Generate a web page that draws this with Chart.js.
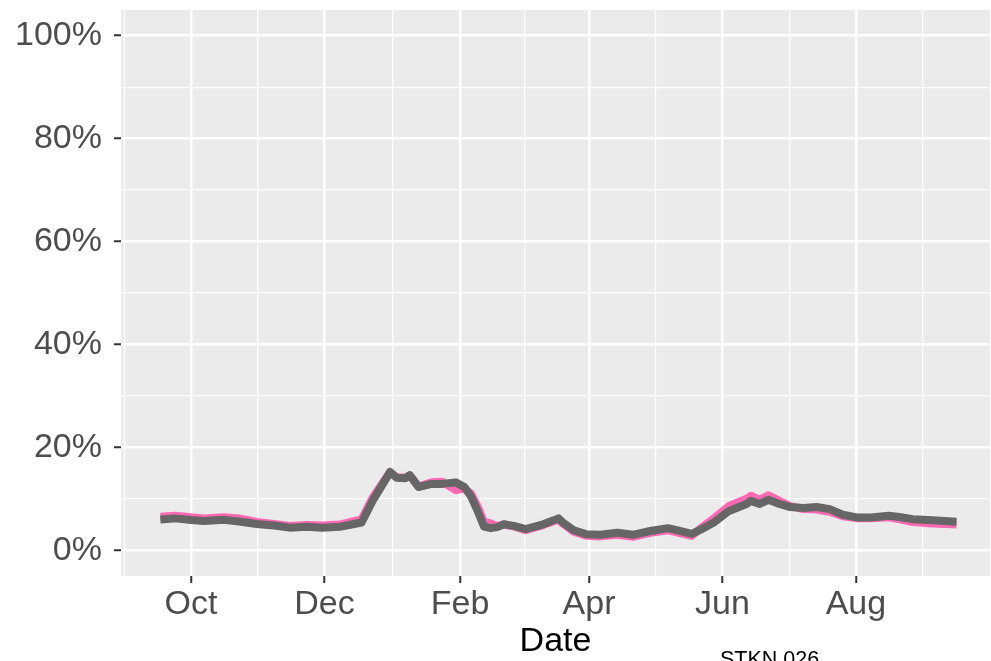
<!DOCTYPE html>
<html>
<head>
<meta charset="utf-8">
<script src="https://cdn.jsdelivr.net/npm/chart.js@4.4.1/dist/chart.umd.min.js"></script>
<style>
  html, body { margin: 0; padding: 0; background: #ffffff; }
  canvas { display: block; }
</style>
</head>
<body>
<canvas id="chart" width="991" height="661"></canvas>
<script>
// Observation dates shared by both series
const dates = [
  '2022-09-17','2022-09-24','2022-10-01','2022-10-07','2022-10-16','2022-10-23',
  '2022-10-31','2022-11-08','2022-11-15','2022-11-23','2022-11-30','2022-12-08','2022-12-14','2022-12-18',
  '2022-12-23','2022-12-31','2023-01-03','2023-01-07','2023-01-09','2023-01-13','2023-01-19','2023-01-24','2023-01-30',
  '2023-02-03','2023-02-06','2023-02-09','2023-02-12','2023-02-15','2023-02-18','2023-02-21','2023-02-26','2023-03-03',
  '2023-03-11','2023-03-18','2023-03-20','2023-03-25','2023-03-31','2023-04-06','2023-04-14','2023-04-21','2023-04-29',
  '2023-05-07','2023-05-12','2023-05-18','2023-05-22','2023-05-28',
  '2023-06-04','2023-06-12','2023-06-14','2023-06-18','2023-06-22','2023-06-27','2023-07-02','2023-07-08','2023-07-14',
  '2023-07-20','2023-07-26','2023-08-02','2023-08-08','2023-08-16','2023-08-20','2023-08-27','2023-09-05','2023-09-16'
];

// Grey series (percent)
const greyValues = [
  6.0, 6.2, 5.9, 5.7, 5.95, 5.6,
  5.1, 4.8, 4.4, 4.55, 4.4, 4.55, 5.05, 5.4,
  9.6, 15.2, 14.1, 14.0, 14.6, 12.3, 12.9, 12.9, 13.2,
  12.3, 10.5, 7.7, 4.6, 4.3, 4.5, 5.05, 4.7, 4.1,
  5.05, 6.2, 5.4, 3.9, 3.1, 3.0, 3.4, 3.0, 3.75, 4.3, 3.8, 3.2, 4.0, 5.4,
  7.65, 9.0, 9.6, 9.0, 9.8, 9.0, 8.4, 8.2, 8.4, 8.0, 6.9, 6.35, 6.35, 6.7, 6.5, 6.05, 5.85, 5.55
];

// Pink series (percent)
const pinkValues = [
  6.5, 6.7, 6.4, 6.2, 6.4, 6.2,
  5.5, 5.1, 4.7, 4.9, 4.8, 5.0, 5.6, 6.0,
  10.2, 15.2, 14.2, 14.1, 14.6, 12.4, 13.2, 13.3, 11.7,
  12.0, 11.0, 8.6, 5.5, 5.2, 4.7, 5.0, 4.6, 3.9,
  4.9, 6.0, 5.2, 3.6, 2.8, 2.7, 3.0, 2.6, 3.4, 3.9, 3.4, 2.8, 4.3, 6.2,
  8.6, 10.0, 10.6, 9.8, 10.7, 9.6, 8.6, 8.0, 7.9, 7.5, 6.6, 6.2, 6.2, 6.4, 6.1, 5.5, 5.2, 5.0
];

// Axis breaks
const monthBreaks = ['2022-10-01','2022-12-01','2023-02-01','2023-04-01','2023-06-01','2023-08-01'];
const monthLabels = ['Oct','Dec','Feb','Apr','Jun','Aug'];
const monthBreakEdges = ['2022-08-01','2023-10-01'];
const percentBreaks = [0, 20, 40, 60, 80, 100];
const percentLabels = ['0%','20%','40%','60%','80%','100%'];
const captionText = 'STKN 026';

// Dates are placed on a linear axis as days since 1 Oct 2022
const ORIGIN = Date.UTC(2022, 9, 1);
const toDay = s => (Date.parse(s) - ORIGIN) / 86400000;

const majorX = monthBreaks.map(toDay);
const edgeX = [toDay(monthBreakEdges[0]), ...majorX, toDay(monthBreakEdges[1])];
const minorX = edgeX.slice(1).map((v, i) => (v + edgeX[i]) / 2);
const minorY = percentBreaks.slice(1).map((v, i) => (v + percentBreaks[i]) / 2);

const X_MIN = -32, X_MAX = 365.3;
const Y_MIN = -5, Y_MAX = 105;
const FONT = '"Liberation Sans", Arial, Helvetica, sans-serif';

const greyPoints = dates.map((d, i) => ({ x: toDay(d), y: greyValues[i] }));
const pinkPoints = dates.map((d, i) => ({ x: toDay(d), y: pinkValues[i] }));

const panelBackground = {
  id: 'panelBackground',
  beforeDraw(chart) {
    const { ctx, chartArea: a } = chart;
    ctx.save();
    ctx.fillStyle = '#EBEBEB';
    ctx.fillRect(a.left, a.top, a.right - a.left, a.bottom - a.top);
    ctx.restore();
  }
};

const caption = {
  id: 'caption',
  afterDraw(chart) {
    const { ctx } = chart;
    ctx.save();
    ctx.fillStyle = '#000000';
    ctx.font = '21.5px ' + FONT;
    ctx.textAlign = 'left';
    ctx.textBaseline = 'alphabetic';
    ctx.fillText(captionText, 720, 666);
    ctx.restore();
  }
};

// Keep the panel edges fixed: no extra room reserved for overhanging labels
const noOverhang = s => { s.paddingTop = 0; s.paddingBottom = 0; s.paddingLeft = 0; s.paddingRight = 0; };

new Chart(document.getElementById('chart'), {
  type: 'line',
  data: {
    datasets: [
      {
        label: 'grey', data: greyPoints, order: 0,
        borderColor: '#666666', borderWidth: 8,
        borderCapStyle: 'butt', borderJoinStyle: 'round',
        pointRadius: 0, tension: 0, fill: false,
        xAxisID: 'x', yAxisID: 'y'
      },
      {
        label: 'pink', data: pinkPoints, order: 1,
        borderColor: '#FF69B4', borderWidth: 8,
        borderCapStyle: 'butt', borderJoinStyle: 'round',
        pointRadius: 0, tension: 0, fill: false,
        xAxisID: 'x', yAxisID: 'y'
      }
    ]
  },
  options: {
    responsive: false,
    animation: false,
    devicePixelRatio: 1,
    layout: { padding: { top: 10, right: 1, bottom: 0, left: 0 } },
    plugins: { legend: { display: false }, tooltip: { enabled: false } },
    scales: {
      x: {
        type: 'linear', position: 'bottom', min: X_MIN, max: X_MAX,
        afterBuildTicks: s => { s.ticks = majorX.map(v => ({ value: v })); },
        afterFit: s => { s.height = 85; noOverhang(s); },
        border: { display: false },
        grid: { color: '#FFFFFF', lineWidth: 2.5, tickColor: '#333333', tickWidth: 2, tickLength: 7, drawTicks: true },
        ticks: {
          color: '#4D4D4D', font: { family: FONT, size: 34, lineHeight: 1.2 },
          padding: 1, maxRotation: 0, autoSkip: false,
          callback: (v, i) => monthLabels[i]
        },
        title: {
          display: true, text: 'Date', color: '#000000',
          font: { family: FONT, size: 34, lineHeight: 1 },
          padding: { top: 0, bottom: 2 }
        }
      },
      xMinor: {
        type: 'linear', position: 'bottom', min: X_MIN, max: X_MAX,
        afterBuildTicks: s => { s.ticks = minorX.map(v => ({ value: v })); },
        afterFit: s => { s.height = 0; noOverhang(s); },
        border: { display: false },
        grid: { color: '#FFFFFF', lineWidth: 1.2, drawTicks: false },
        ticks: { display: false }
      },
      y: {
        type: 'linear', position: 'left', min: Y_MIN, max: Y_MAX,
        afterBuildTicks: s => { s.ticks = percentBreaks.map(v => ({ value: v })); },
        afterFit: s => { s.width = 121; noOverhang(s); },
        border: { display: false },
        grid: { color: '#FFFFFF', lineWidth: 2.5, tickColor: '#333333', tickWidth: 2, tickLength: 7, drawTicks: true },
        ticks: {
          color: '#4D4D4D', font: { family: FONT, size: 34 },
          padding: 12, autoSkip: false,
          callback: (v, i) => percentLabels[i]
        }
      },
      yMinor: {
        type: 'linear', position: 'left', min: Y_MIN, max: Y_MAX,
        afterBuildTicks: s => { s.ticks = minorY.map(v => ({ value: v })); },
        afterFit: s => { s.width = 0; noOverhang(s); },
        border: { display: false },
        grid: { color: '#FFFFFF', lineWidth: 1.2, drawTicks: false },
        ticks: { display: false }
      }
    }
  },
  plugins: [panelBackground, caption]
});
</script>
</body>
</html>
